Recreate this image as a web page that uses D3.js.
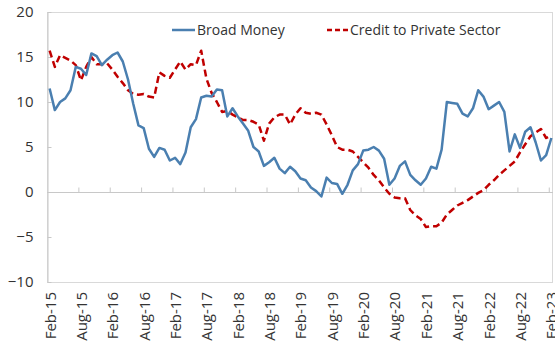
<!DOCTYPE html>
<html><head><meta charset="utf-8">
<script src="https://cdn.jsdelivr.net/npm/d3@7/dist/d3.min.js"></script>
<style>
body{margin:0;background:#fff}
svg{display:block}
text{font-family:"Open Sans",sans-serif;fill:#333}
</style>
</head><body>
<svg id="chart" width="555" height="347"></svg>
<script>
// Monthly categories Feb-15 .. Feb-23
const categories = d3.timeMonths(new Date(2015,1,1), new Date(2023,2,1));
const tickLabels = ["Feb-15","Aug-15","Feb-16","Aug-16","Feb-17","Aug-17","Feb-18","Aug-18","Feb-19","Aug-19","Feb-20","Aug-20","Feb-21","Aug-21","Feb-22","Aug-22","Feb-23"];
const yTicks = [-10,-5,0,5,10,15,20];

const broadMoney = [
 11.5,9.1,10.0,10.4,11.3,13.9,13.7,13.0,15.4,15.1,
 14.1,14.7,15.2,15.5,14.5,12.5,9.8,7.4,7.1,4.8,
 3.9,4.9,4.7,3.5,3.8,3.1,4.4,7.2,8.1,10.5,
 10.7,10.6,11.4,11.3,8.4,9.3,8.4,7.6,6.8,5.0,
 4.5,2.9,3.3,3.8,2.6,2.1,2.8,2.3,1.5,1.3,
 0.5,0.1,-0.5,1.6,1.0,0.9,-0.2,0.8,2.4,3.1,
 4.6,4.7,5.0,4.6,3.7,0.8,1.5,2.9,3.4,1.9,
 1.3,0.8,1.5,2.8,2.6,4.7,10.0,9.9,9.8,8.7,
 8.4,9.3,11.3,10.6,9.2,9.6,10.0,8.9,4.5,6.4,
 4.9,6.7,7.2,5.5,3.5,4.1,6.0
];
const creditPrivate = [
 15.7,13.9,15.2,14.9,14.6,14.1,12.4,13.9,15.0,14.2,
 14.2,14.3,13.6,12.8,12.1,11.3,10.9,10.8,10.9,10.6,
 10.5,13.3,12.9,12.7,13.6,14.5,13.6,14.2,14.1,15.7,
 12.6,11.0,10.0,8.9,9.0,8.6,8.3,8.0,8.0,7.8,
 7.5,5.7,7.6,8.3,8.6,8.6,7.5,8.6,9.3,8.8,
 8.7,8.8,8.6,7.5,6.3,5.0,4.7,4.7,4.5,3.9,
 3.3,2.7,1.9,1.3,0.5,-0.2,-0.6,-0.7,-0.7,-2.0,
 -2.6,-3.0,-3.9,-3.8,-3.8,-3.4,-2.5,-2.0,-1.5,-1.2,
 -0.9,-0.5,-0.1,0.2,0.8,1.3,1.9,2.4,2.9,3.4,
 4.4,5.3,6.2,6.6,7.0,6.0,6.3
];

const svg = d3.select("#chart");
const L = 47, R = 553, T = 12, B = 282;
const gridCol = "#c8c8c8";

const x = d3.scalePoint().domain(d3.range(categories.length)).range([L, 554]).padding(0.5);
const xb = d3.scaleLinear().domain([0, categories.length]).range([L, 554]); // category boundaries
const y = d3.scaleLinear().domain([-10, 20]).range([B, T]);
const tickIdx = tickLabels.map((_, k) => k * 6);

// plot box
svg.append("rect").attr("x", L + 0.5).attr("y", T + 0.5)
  .attr("width", R - L - 1).attr("height", B - T)
  .attr("fill", "none").attr("stroke", "#d9d9d9");

// y axis
const ya = svg.append("g").attr("transform", `translate(${L + 0.5},0)`)
  .call(d3.axisLeft(y).tickValues(yTicks).tickSize(-4).tickSizeOuter(0).tickPadding(14));
ya.select(".domain").attr("stroke", gridCol);
ya.selectAll(".tick line").attr("stroke", gridCol);
ya.selectAll("text").style("font-size", "15px").attr("fill", "#333");

// zero line with tick marks
svg.append("line").attr("x1", L).attr("x2", R).attr("y1", y(0) + 0.5).attr("y2", y(0) + 0.5)
  .attr("stroke", gridCol);
const za = svg.append("g").attr("transform", `translate(0,${y(0) + 0.5})`)
  .call(d3.axisTop(xb).tickValues(tickIdx.slice(1)).tickSize(5).tickSizeOuter(0).tickFormat(""));
za.select(".domain").remove();
za.selectAll(".tick line").attr("stroke", gridCol);

// x labels
const xa = svg.append("g").attr("transform", `translate(0,${B})`)
  .call(d3.axisBottom(x).tickValues(tickIdx).tickSize(0).tickFormat(d => tickLabels[tickIdx.indexOf(d)]));
xa.select(".domain").remove();
xa.selectAll("text")
  .attr("transform", "rotate(-90)")
  .attr("x", -10).attr("y", 0).attr("dy", "0.36em")
  .style("text-anchor", "end").style("font-size", "15px").attr("fill", "#333");

// lines
const line = d3.line().x((d, i) => x(i)).y(d => y(d));
svg.append("path").datum(creditPrivate).attr("d", line)
  .attr("fill", "none").attr("stroke", "#c00000").attr("stroke-width", 2.5)
  .attr("stroke-dasharray", "7,4").attr("stroke-linejoin", "round");
svg.append("path").datum(broadMoney).attr("d", line)
  .attr("fill", "none").attr("stroke", "#4a7fb0").attr("stroke-width", 2.5)
  .attr("stroke-linejoin", "round");

// legend
const lg = svg.append("g");
lg.append("line").attr("x1", 172).attr("x2", 195).attr("y1", 30).attr("y2", 30)
  .attr("stroke", "#4a7fb0").attr("stroke-width", 2.5);
lg.append("text").attr("x", 197).attr("y", 35).text("Broad Money").style("font-size", "14px");
lg.append("line").attr("x1", 327).attr("x2", 349).attr("y1", 30).attr("y2", 30)
  .attr("stroke", "#c00000").attr("stroke-width", 2.5).attr("stroke-dasharray", "5,3");
lg.append("text").attr("x", 350).attr("y", 35).text("Credit to Private Sector").style("font-size", "14px");
</script>
</body></html>
